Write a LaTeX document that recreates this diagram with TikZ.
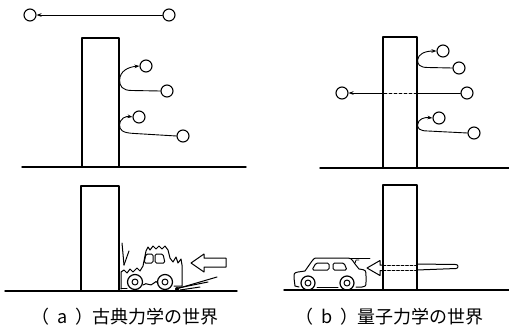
\documentclass[tikz,border=0pt]{standalone}
\usepackage{fontspec}
\newfontfamily\jpfont{Noto Sans CJK JP}
\usetikzlibrary{arrows.meta}
\begin{document}
\begin{tikzpicture}[x=1pt,y=-1pt,line width=1pt,line join=round,line cap=round,
  ball/.style={circle,draw,minimum size=12pt,inner sep=0pt,line width=1.1pt},
  wall/.style={line width=1.2pt},
  ground/.style={line width=1.4pt},
  track/.style={line width=0.9pt},
  tip/.style={-{Stealth[length=5pt,width=3.6pt]}},
  caption/.style={font=\jpfont\fontsize{18}{21}\selectfont,inner sep=0pt,anchor=base west}]
\useasboundingbox (0,0) rectangle (509,333);

% ---------- (a) top: classical particles ----------
\draw[ground] (22,167) -- (246,167);
\draw[wall] (82,167) -- (82,38) -- (119,38) -- (119,167);
\node[ball] (a0) at (30,15) {};
\node[ball] (a0s) at (169,15) {};
\draw[track,tip] (a0s) -- (a0);

\node[ball] (a1) at (146,66) {};
\node[ball] (a1s) at (167,91) {};
\coordinate (ha1) at (119.6,80);
\draw[track,tip] (a1s.west) -- (132,90.5)
  .. controls (122,90.5) and (119.6,86) .. (ha1)
  .. controls (120,71) and (128,67) .. (a1.west);

\node[ball] (a2) at (139,117) {};
\node[ball] (a2s) at (183,136) {};
\coordinate (ha2) at (119.6,125);
\draw[track,tip] (a2s.west) -- (135,133.5)
  .. controls (122,133) and (119.6,130) .. (ha2)
  .. controls (120,118) and (126,116) .. (a2.west);

% ---------- (b) top: quantum particles ----------
\draw[ground] (320,168) -- (509,168);
\draw[wall] (383,168) -- (383,37) -- (417,37) -- (417,168);
\node[ball] (b1) at (443,51) {};
\node[ball] (b1s) at (459,68) {};
\coordinate (hb1) at (417.6,60);
\draw[track,tip] (b1s.west) -- (428,67.5)
  .. controls (419,67.5) and (417.6,64) .. (hb1)
  .. controls (418,54) and (425,51) .. (b1.west);

\node[ball] (bl) at (342,93) {};
\node[ball] (br) at (467,93) {};
\coordinate (tin) at (417,93);
\coordinate (tout) at (383,93);
\draw[track] (br) -- (tin);
\draw[track,dashed,dash pattern=on 3pt off 2pt] (tin) -- (tout);
\draw[track,tip] (tout) -- (bl);

\node[ball] (b3) at (439,118) {};
\node[ball] (b3s) at (474,133) {};
\coordinate (hb3) at (417.6,125);
\draw[track,tip] (b3s.west) -- (428,131)
  .. controls (419,131) and (417.6,128) .. (hb3)
  .. controls (418,119) and (424,117) .. (b3.west);

% ---------- (a) bottom: car crashes into the wall ----------
\draw[ground] (5,291) -- (237,291);
\draw[wall] (81,291) -- (81,186) -- (119,186) -- (119,291);
% crumpled body
\draw (121,289) -- (121,272) -- (124,270) -- (127,273) -- (130,269) -- (133,272)
  -- (137,268) -- (140,271) -- (143,266) -- (145,256) -- (146,251) -- (148,247)
  -- (150,250) -- (153,246) -- (156,249) -- (159,246) -- (162,249) -- (165,246)
  -- (168,250) -- (170,258) -- (173,262) -- (176,257) -- (178,263) -- (181,259)
  -- (182,265) -- (182,286) -- (174,286);
\draw (121,288) -- (127,288);
\draw (143,285) .. controls (147,281) and (150,288) .. (154,283) .. controls (156,281) .. (158,283);
% windows
\draw[rounded corners=1.5pt] (144,263) -- (146,254) -- (153,254) -- (153,263) -- cycle;
\draw[rounded corners=1.5pt] (155,263) -- (155,254) -- (163,254) -- (165,263) -- cycle;
% wheels
\draw[line width=1.2pt] (135,282) circle (7.5);
\draw (135,282) circle (3);
\draw[line width=1.2pt] (165,282) circle (7.5);
\draw (165,282) circle (3);
% impact mark at the wall
\draw (122,243) -- (124,265);
\draw (129,251) -- (124,265);
% skid lines
\draw (176,289) -- (217,277);
\draw (178,288) -- (208,282);
\draw (180,290) -- (200,287);
\fill (177,289) circle (2);
% hollow arrow (motion to the left)
\draw (226,258) -- (204,258) -- (204,254) -- (191,263) -- (204,272) -- (204,267) -- (226,267) -- cycle;

% ---------- (b) bottom: car tunnels through the wall ----------
\draw[ground] (284,290) -- (509,290);
\draw[wall] (383,290) -- (383,185) -- (417,185) -- (417,290);
% body
\draw (299,287) -- (295,286) -- (294,278) .. controls (294,273) .. (298,272) -- (305,271)
  -- (312,261) .. controls (314,258) .. (319,258) -- (345,258)
  .. controls (351,258) .. (355,264) -- (359,269) .. controls (366,270) .. (366,276)
  -- (366,282) .. controls (366,286) .. (362,287) -- (356,287);
\draw (338,287) -- (317,287);
% windows
\draw[rounded corners=1.5pt] (312,270) -- (316,263) -- (329,263) -- (329,270) -- cycle;
\draw[rounded corners=1.5pt] (333,270) -- (333,263) -- (344,263) -- (347,270) -- cycle;
% wheels
\draw[line width=1.2pt] (308,283) circle (7);
\draw (308,283) circle (3);
\draw[line width=1.2pt] (347,283) circle (7);
\draw (347,283) circle (3);
% speed mark
\draw[line width=0.8pt] (351,258) -- (370,258);
\draw[line width=0.8pt] (355,263) -- (356,260) -- (359,260);
% hollow arrow through the wall
\draw (383,265) -- (380,265) -- (380,260.5) -- (367,268) -- (380,275.5) -- (380,270.5) -- (383,270.5);
\draw[dashed,dash pattern=on 3pt off 1.5pt,line width=0.8pt] (383,265) -- (417,265);
\draw[dashed,dash pattern=on 3pt off 1.5pt,line width=0.8pt] (383,270.5) -- (417,270.5);
\draw (417,264) -- (456,264.5) arc[start angle=-90,end angle=90,radius=2] -- (417,270);

% ---------- captions ----------
\node[caption] (capa) at (31,323) {（\hspace{8pt}a\hspace{8pt}）\hspace{-1pt}古典力学の世界};
\node[caption] (capb) at (295,323) {（\hspace{8pt}b\hspace{8pt}）\hspace{-1pt}量子力学の世界};
\end{tikzpicture}
\end{document}
